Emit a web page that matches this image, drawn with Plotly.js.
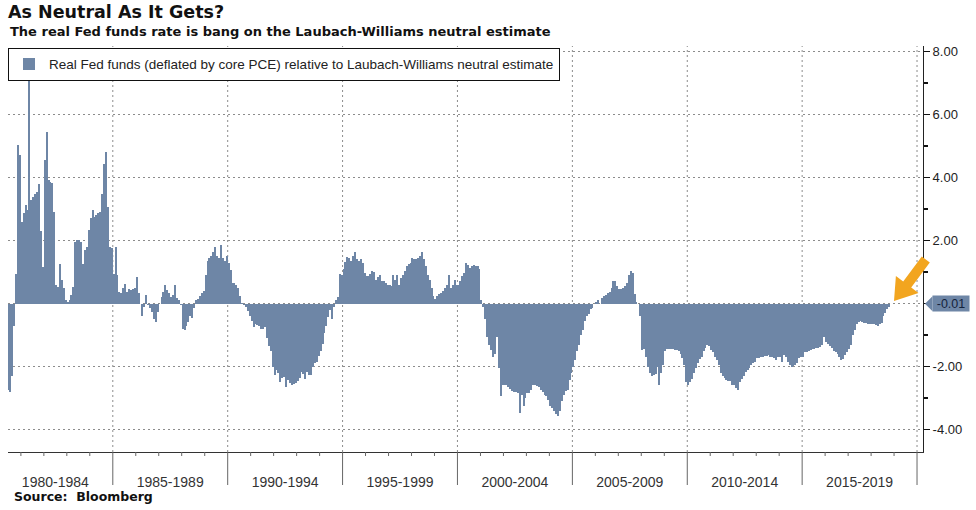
<!DOCTYPE html>
<html><head><meta charset="utf-8">
<script src="https://cdn.plot.ly/plotly-3.0.1.min.js"></script>
<style>html,body{margin:0;padding:0;background:#fff}#chart{width:976px;height:510px}</style>
</head><body><div id="chart"></div>
<script>
// Monthly series, first value = June 1980
const startYear = 1980, startMonth = 6;
const v1980_84 = [-2.75,-2.8,-2.3,-0.7,0.95,5.02,4.71,2.59,2.86,3.12,2.96,7.14,3.28,3.38,3.49,3.54,3.8,2.3,1.16,4.55,5.45,3.91,3.86,3.81,2.91,0.6,0.53,1.27,0.74,0.48,0.11,0.05,0.1,0.27,0.53,1.96,2.0,2.0,1.96,1.27,1.69,1.8,2.33,2.7,2.96,2.75,2.8,2.86,2.91,3.49,4.44,4.81,3.07,1.8,1.75];
const v1985_89 = [0.95,1.8,0.9,0.37,0.32,0.48,0.63,0.37,0.45,0.42,0.45,0.48,0.85,0.32,0.0,-0.38,-0.1,0.27,-0.05,-0.15,-0.27,-0.48,-0.58,-0.27,0.0,0.21,0.37,0.58,0.42,0.32,0.21,0.27,0.58,0.16,0.11,-0.05,-0.8,-0.85,-0.7,-0.6,-0.4,-0.45,-0.15,0.1,0.15,0.25,0.35,0.4,0.9,1.35,1.45,1.5,1.65,1.8,1.5,1.45,1.85,1.45,1.35,1.5];
const v1990_94 = [1.3,1.06,0.64,0.64,0.6,0.5,0.24,0.03,-0.05,-0.1,-0.25,-0.4,-0.55,-0.74,-0.64,-0.69,-0.72,-0.8,-0.8,-0.76,-1.1,-1.35,-1.5,-2.0,-2.28,-2.1,-2.2,-2.5,-2.35,-2.33,-2.65,-2.44,-2.53,-2.6,-2.55,-2.53,-2.45,-2.35,-2.17,-2.25,-2.38,-2.17,-2.28,-2.28,-2.0,-1.9,-1.85,-1.65,-1.5,-1.27,-0.95,-0.7,-0.44,-0.2,-0.5,-0.1,0.1,0.2,0.95,0.9];
const v1995_99 = [1.1,1.31,1.47,1.45,1.36,1.5,1.63,1.4,1.36,1.4,1.3,0.97,0.86,0.86,0.95,1.02,1.0,0.76,0.85,0.92,0.71,0.7,0.66,0.6,0.58,0.55,0.92,0.76,0.92,0.6,0.81,0.9,1.02,1.18,1.25,1.3,1.44,1.42,1.4,1.44,1.5,1.65,1.4,1.18,0.92,0.75,0.5,0.24,0.14,0.25,0.29,0.35,0.4,0.5,0.6,0.92,0.5,0.6,0.76,0.6];
const v2000_04 = [0.6,0.7,0.86,0.97,1.3,1.23,1.13,1.18,1.23,1.18,1.2,1.1,0.1,-0.12,-0.5,-1.06,-1.3,-1.48,-1.69,-1.6,-1.06,-2.05,-2.94,-2.6,-2.57,-2.6,-2.65,-2.7,-2.78,-2.8,-2.82,-2.85,-3.46,-2.9,-3.25,-3.0,-2.85,-2.85,-2.75,-2.6,-2.57,-2.62,-2.65,-2.75,-2.8,-2.9,-2.94,-3.05,-3.25,-3.3,-3.4,-3.5,-3.56,-3.4,-3.1,-2.9,-2.78,-2.73,-2.42,-2.2];
const v2005_09 = [-2.0,-1.79,-1.5,-1.3,-1.0,-0.85,-0.54,-0.4,-0.33,-0.18,-0.15,-0.02,0.05,0.12,0.0,0.19,0.24,0.26,0.34,0.38,0.5,0.71,0.7,0.55,0.45,0.45,0.5,0.55,0.66,0.9,1.02,0.97,0.3,0.05,-0.02,-0.4,-1.48,-1.43,-1.7,-2.0,-2.2,-2.31,-2.28,-2.22,-2.0,-2.57,-2.2,-1.95,-1.5,-1.43,-1.43,-1.43,-1.45,-1.48,-1.48,-1.52,-1.6,-1.74,-1.95,-2.5];
const v2010_14 = [-2.57,-2.5,-2.4,-2.2,-2.05,-1.9,-1.75,-1.69,-1.5,-1.4,-1.32,-1.36,-1.48,-1.55,-1.69,-1.8,-1.95,-2.2,-2.31,-2.35,-2.42,-2.45,-2.45,-2.57,-2.57,-2.68,-2.73,-2.5,-2.4,-2.3,-2.16,-2.1,-2.05,-1.95,-1.88,-1.84,-1.74,-1.72,-1.69,-1.69,-1.66,-1.66,-1.64,-1.69,-1.7,-1.74,-1.8,-1.69,-1.7,-1.84,-1.64,-1.7,-1.84,-1.95,-2.0,-1.97,-1.94,-1.9,-1.74,-1.7];
const v2015_18 = [-1.7,-1.55,-1.53,-1.5,-1.48,-1.45,-1.44,-1.42,-1.42,-1.38,-1.3,-1.06,-1.22,-1.28,-1.35,-1.42,-1.5,-1.55,-1.6,-1.69,-1.8,-1.75,-1.64,-1.55,-1.45,-1.3,-1.0,-0.85,-0.65,-0.6,-0.55,-0.6,-0.62,-0.62,-0.65,-0.65,-0.65,-0.65,-0.68,-0.7,-0.65,-0.62,-0.4,-0.3,-0.18,-0.1,-0.01];

const bandLabels = ['1980-1984','1985-1989','1990-1994','1995-1999','2000-2004','2005-2009','2010-2014','2015-2019'];
const bandStartYears = [1980,1985,1990,1995,2000,2005,2010,2015];
const separatorYears = [1985,1990,1995,2000,2005,2010,2015,2020];
const yearTicks = [1981,1982,1983,1984,1986,1987,1988,1989,1991,1992,1993,1994,1996,1997,1998,1999,2001,2002,2003,2004,2006,2007,2008,2009,2011,2012,2013,2014,2016,2017,2018,2019];
const yTickVals = [-4,-2,0,2,4,6,8];
const lastValue = -0.01;
const seriesName = 'Real Fed funds (deflated by core PCE) relative to Laubach-Williams neutral estimate';
const titleText = 'As Neutral As It Gets?';
const subtitleText = 'The real Fed funds rate is bang on the Laubach-Williams neutral estimate';
const sourceText = 'Source:\u00a0\u00a0Bloomberg';

const values = [].concat(v1980_84, v1985_89, v1990_94, v1995_99, v2000_04, v2005_09, v2010_14, v2015_18);
const dates = values.map((_, i) => {
  const m = startMonth - 1 + i;
  const y = startYear + Math.floor(m / 12);
  const mm = (m % 12) + 1;
  return y + '-' + String(mm).padStart(2, '0') + '-16';
});

const barColor = '#6e86a6';
const gridColor = '#8c8c8c';
const xRange = ['1980-06-10', '2020-04-05'];
const plotH = 406; // px height of plot area (for paper-unit offsets)
const barWidthMs = 32 * 24 * 3600 * 1000; // slightly over one month so adjacent bars meet

const traces = [
  {type: 'bar', x: dates, y: values, name: seriesName, width: barWidthMs,
   marker: {color: barColor, line: {width: 0}}, hoverinfo: 'x+y'}
];

const shapes = [];
separatorYears.forEach(y => {
  const d = y + '-01-01';
  shapes.push({type: 'line', xref: 'x', yref: 'paper', x0: d, x1: d, y0: 0, y1: 1, layer: 'below',
               line: {color: gridColor, width: 1, dash: '2px,3px'}});
  shapes.push({type: 'line', xref: 'x', yref: 'paper', x0: d, x1: d, y0: 0, y1: -33 / plotH,
               line: {color: '#666', width: 1}});
});
yearTicks.forEach(y => {
  const d = y + '-01-01';
  shapes.push({type: 'line', xref: 'x', yref: 'paper', x0: d, x1: d, y0: 0, y1: -4 / plotH,
               line: {color: '#666', width: 1}});
});
// value tag pointer
shapes.push({type: 'path', xref: 'paper', yref: 'y', xsizemode: 'pixel', ysizemode: 'pixel',
     xanchor: 1, yanchor: lastValue, path: 'M 2,0 L 9.5,7.5 L 9.5,-7.5 Z',
     fillcolor: barColor, line: {width: 0}});
// orange call-out arrow
shapes.push({type: 'path', xref: 'paper', yref: 'paper', xsizemode: 'pixel', ysizemode: 'pixel',
     xanchor: (894 - 8) / 915, yanchor: (452 - 301) / plotH,
     path: 'M 0,0 L 24.5,8.1 L 17.2,13.6 L 35.8,38.4 L 27.8,44.4 L 9.2,19.6 L 1.9,25.1 Z',
     fillcolor: '#f2a51f', line: {width: 0}});

const layout = {
  width: 976, height: 510,
  paper_bgcolor: '#ffffff', plot_bgcolor: '#ffffff',
  margin: {l: 8, r: 53, t: 46, b: 58, pad: 0},
  bargap: 0,
  showlegend: true,
  title: {
    text: titleText,
    font: {family: 'DejaVu Sans', size: 17.5, weight: 'bold', color: '#111'},
    xref: 'container', x: 8 / 976, xanchor: 'left',
    yref: 'container', y: 0.988, yanchor: 'top'
  },
  legend: {x: 0, y: 0.996, xanchor: 'left', yanchor: 'top', bgcolor: '#fff',
           bordercolor: '#111', borderwidth: 1, tracegroupgap: 0,
           font: {family: 'Liberation Sans, Arial, sans-serif', size: 13.5, color: '#222'}},
  xaxis: {
    type: 'date', range: xRange, fixedrange: true,
    tickmode: 'array',
    tickvals: bandStartYears.map(y => (y + 2) + '-07-02'),
    ticktext: bandLabels,
    ticks: 'outside', ticklen: 17, tickcolor: 'rgba(0,0,0,0)',
    showgrid: false, showline: true, linecolor: '#333', linewidth: 1, zeroline: false,
    tickfont: {family: 'Liberation Sans Narrow, Arial Narrow, sans-serif', size: 14, color: '#333'}
  },
  yaxis: {
    side: 'right', range: [-4.71, 8.17], fixedrange: true,
    tickmode: 'array', tickvals: yTickVals,
    ticktext: yTickVals.map(v => v === 0 ? '' : v.toFixed(2)),
    ticks: 'outside', ticklen: 6, tickwidth: 1.5, tickcolor: '#111',
    showgrid: true, gridcolor: gridColor, griddash: '2px,3px', gridwidth: 1,
    showline: true, linecolor: '#222', linewidth: 1, zeroline: false,
    tickfont: {family: 'Liberation Sans, Arial, sans-serif', size: 13, color: '#222'},
    minor: {tickmode: 'linear', tick0: 1, dtick: 2, ticks: 'outside', ticklen: 4, tickcolor: '#111', showgrid: false}
  },
  annotations: [
    {xref: 'paper', yref: 'paper', x: 0, y: (452 - 32) / plotH, xanchor: 'left', yanchor: 'middle',
     text: subtitleText, showarrow: false,
     font: {family: 'DejaVu Sans', size: 13, weight: 'bold', color: '#111'}},
    {xref: 'paper', yref: 'y', x: 1, y: lastValue, xanchor: 'left', yanchor: 'middle', xshift: 9,
     text: lastValue.toFixed(2), showarrow: false, bgcolor: barColor, borderpad: 1, width: 34, height: 13,
     font: {family: 'Liberation Sans, Arial, sans-serif', size: 12.5, color: '#14233c'}},
    {xref: 'paper', yref: 'paper', x: 4 / 915, y: (452 - 497) / plotH, xanchor: 'left', yanchor: 'middle',
     text: sourceText, showarrow: false,
     font: {family: 'DejaVu Sans', size: 12.5, weight: 'bold', color: '#111'}}
  ],
  shapes: shapes
};

Plotly.newPlot('chart', traces, layout, {displayModeBar: false, staticPlot: true});
</script>
</body></html>
